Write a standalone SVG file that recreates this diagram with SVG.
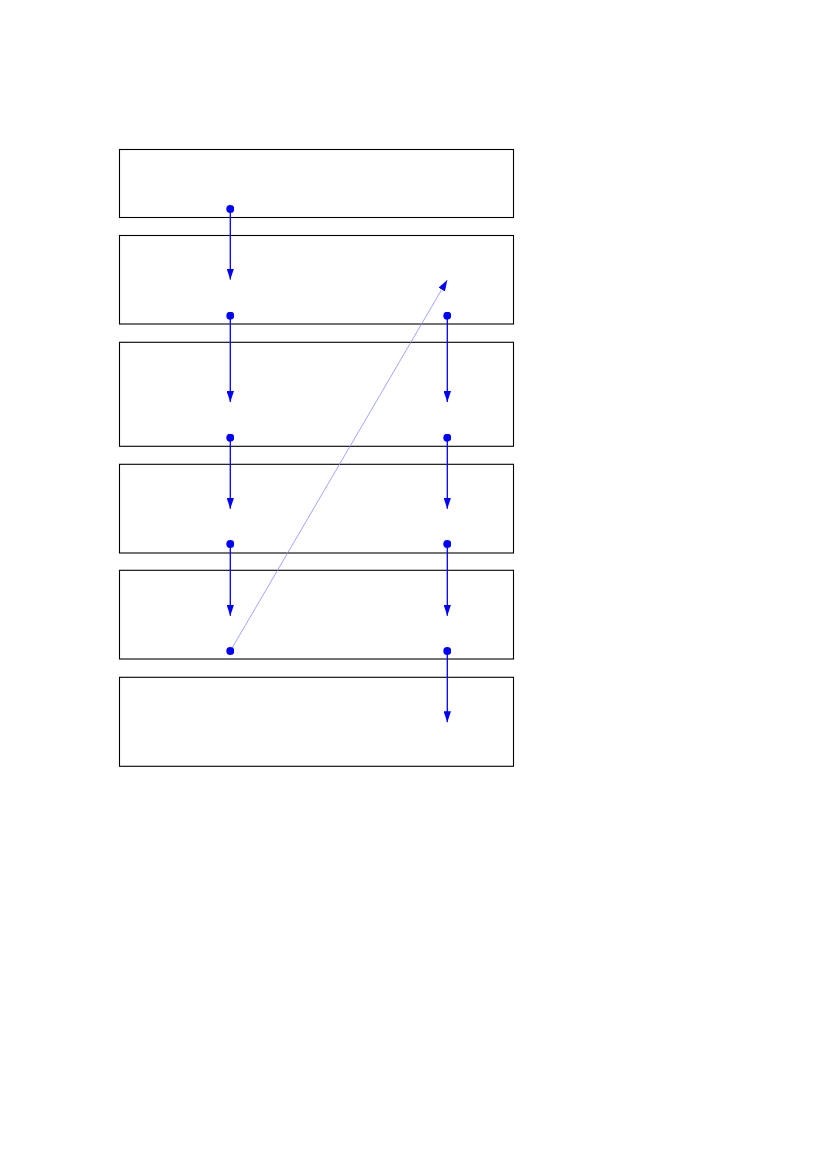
<svg xmlns="http://www.w3.org/2000/svg" width="827" height="1169" viewBox="0 0 827 1169">
<style>
.box{fill:#fff;stroke:#000;stroke-width:1.1}
.c{stroke:#0000ff;stroke-width:1.3;fill:none;marker-start:url(#dot);marker-end:url(#arr)}
.thin{stroke:#8c8cff;stroke-width:0.8;fill:none;marker-start:url(#dot);marker-end:url(#arr)}
</style>
<defs>
<marker id="arr" markerUnits="userSpaceOnUse" viewBox="0 0 11 7.4" refX="11" refY="3.7" markerWidth="11" markerHeight="7.4" orient="auto">
<path d="M0,0 L11,3.7 L0,7.4 Z" fill="#0000ff"/>
</marker>
<marker id="dot" markerUnits="userSpaceOnUse" viewBox="0 0 8 8" refX="4" refY="4" markerWidth="8" markerHeight="8">
<circle cx="4" cy="4" r="4" fill="#0000ff"/>
</marker>
</defs>
<rect width="827" height="1169" fill="#fff"/>
<g id="box1"><rect class="box" x="119.5" y="149.5" width="394" height="68"/></g>
<g id="box2"><rect class="box" x="119.5" y="235.5" width="394" height="88.5"/></g>
<g id="box3"><rect class="box" x="119.5" y="342.3" width="394" height="104"/></g>
<g id="box4"><rect class="box" x="119.5" y="464.3" width="394" height="88.7"/></g>
<g id="box5"><rect class="box" x="119.5" y="570.3" width="394" height="88.7"/></g>
<g id="box6"><rect class="box" x="119.5" y="677.3" width="394" height="89"/></g>
<g id="connectors">
<line class="c" x1="230.3" y1="209" x2="230.3" y2="279.5"/>
<line class="c" x1="230.3" y1="315.7" x2="230.3" y2="402"/>
<line class="c" x1="230.3" y1="437.7" x2="230.3" y2="508.7"/>
<line class="c" x1="230.3" y1="544" x2="230.3" y2="615.7"/>
<line class="c" x1="447.3" y1="315.7" x2="447.3" y2="402"/>
<line class="c" x1="447.3" y1="437.7" x2="447.3" y2="508.7"/>
<line class="c" x1="447.3" y1="544" x2="447.3" y2="615.7"/>
<line class="c" x1="447.3" y1="651" x2="447.3" y2="722.3"/>
<line class="thin" x1="230.3" y1="651" x2="447.3" y2="280"/>
</g>
</svg>
